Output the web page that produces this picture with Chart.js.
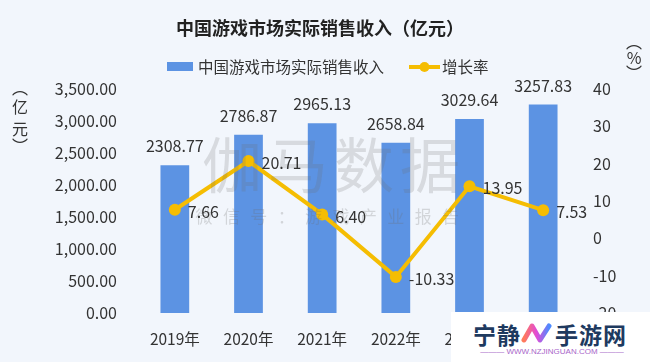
<!DOCTYPE html>
<html>
<head>
<meta charset="utf-8">
<script src="https://cdn.jsdelivr.net/npm/chart.js@4.4.1/dist/chart.umd.min.js"></script>
<style>
  html, body { margin: 0; padding: 0; background: #F2F6FC; }
  #wrap { position: relative; width: 650px; height: 362px; }
  #logo {
    position: absolute; left: 451px; top: 312px; width: 199px; height: 50px;
    background: #ffffff; font-family: 'Noto Sans CJK SC', sans-serif;
  }
  #logo .main { position: absolute; left: 22px; top: 5px; font-size: 23px; font-weight: bold; color: #1E3A5F; letter-spacing: 1px; white-space: nowrap; }
  #logo svg { position: absolute; left: 70px; top: 8px; }
  #logo .sub { position: absolute; left: 26px; top: 35px; width: 150px; font-size: 8px; color: #A865C9; text-align: center; white-space: nowrap; font-family: 'Liberation Sans', sans-serif; }
</style>
</head>
<body>
<div id="wrap">
  <canvas id="chart"></canvas>
  <div id="logo">
    <div class="main">宁静<span style="display:inline-block;width:34px"></span>手游网</div>
    <svg width="32" height="26" viewBox="0 0 32 26">
      <defs>
        <linearGradient id="g" x1="0" y1="0" x2="1" y2="0">
          <stop offset="0" stop-color="#FF7A59"/>
          <stop offset="0.5" stop-color="#E24BD6"/>
          <stop offset="1" stop-color="#4D8BFF"/>
        </linearGradient>
      </defs>
      <polyline points="3,20 11,6 19,20 28,6" fill="none" stroke="url(#g)" stroke-width="5" stroke-linejoin="round" stroke-linecap="round"/>
    </svg>
    <div class="sub">——— WWW.NZJINGUAN.COM ———</div>
  </div>
</div>
<script>
// 数据
const years = ['2019年', '2020年', '2021年', '2022年', '2023年', '2024年'];
const revenue = [2308.77, 2786.87, 2965.13, 2658.84, 3029.64, 3257.83];
const growth = [7.66, 20.71, 6.40, -10.33, 13.95, 7.53];
const barLabel = '中国游戏市场实际销售收入';
const lineLabel = '增长率';

const FONT = "'Noto Sans CJK SC', 'Noto Sans', sans-serif";
const BLUE = '#5C93E3';
const GOLD = '#F5BD02';
const TEXT = '#333333';

Chart.defaults.font.family = FONT;
Chart.defaults.color = TEXT;

const fmt2 = v => v.toLocaleString('en-US', { minimumFractionDigits: 2, maximumFractionDigits: 2 });

// 标题、图例、轴标题、水印和数值标签
const decorPlugin = {
  id: 'decor',
  beforeDraw(chart) {
    const ctx = chart.ctx;
    ctx.save();
    ctx.fillStyle = '#F2F6FC';
    ctx.fillRect(0, 0, chart.width, chart.height);
    ctx.fillStyle = '#222';
    ctx.font = 'bold 18px ' + FONT;
    ctx.textAlign = 'center';
    ctx.textBaseline = 'middle';
    ctx.fillText('中国游戏市场实际销售收入（亿元）', 320, 28);

    // 图例
    ctx.font = '15.5px ' + FONT;
    ctx.textAlign = 'left';
    ctx.fillStyle = BLUE;
    ctx.fillRect(167, 62, 26, 9);
    ctx.fillStyle = TEXT;
    ctx.fillText(barLabel, 198, 67);
    ctx.strokeStyle = GOLD;
    ctx.lineWidth = 4;
    ctx.beginPath();
    ctx.moveTo(409, 67);
    ctx.lineTo(440, 67);
    ctx.stroke();
    ctx.fillStyle = GOLD;
    ctx.beginPath();
    ctx.arc(424.5, 67, 5, 0, Math.PI * 2);
    ctx.fill();
    ctx.fillStyle = TEXT;
    ctx.fillText(lineLabel, 442, 67);

    // 轴标题（竖排）
    ctx.textAlign = 'center';
    ctx.font = '16px ' + FONT;
    [['︵', 88], ['亿', 107], ['元', 129], ['︶', 146]].forEach(([c, y]) => ctx.fillText(c, 20, y));
    [['︵', 42], ['%', 58], ['︶', 73]].forEach(([c, y]) => ctx.fillText(c, 634, y));
    ctx.restore();
  },
  afterDatasetsDraw(chart) {
    const ctx = chart.ctx;
    ctx.save();
    // 水印
    ctx.fillStyle = 'rgba(110,110,110,0.2)';
    ctx.font = '60px ' + FONT;
    ctx.textAlign = 'center';
    ctx.textBaseline = 'middle';
    '伽马数据'.split('').forEach((c, i) => ctx.fillText(c, 232 + i * 66, 165));
    ctx.font = '17px ' + FONT;
    ctx.fillStyle = 'rgba(110,110,110,0.24)';
    '微信号：游戏产业报告'.split('').forEach((c, i) => ctx.fillText(c, 204 + i * 27.4, 217));

    // 数值标签
    ctx.fillStyle = TEXT;
    ctx.font = '16px ' + FONT;
    chart.getDatasetMeta(0).data.forEach((bar, i) => {
      ctx.textAlign = 'center';
      ctx.fillText(revenue[i].toFixed(2), bar.x, bar.y - 19);
    });
    chart.getDatasetMeta(1).data.forEach((pt, i) => {
      ctx.textAlign = 'left';
      ctx.fillText(growth[i].toFixed(2), pt.x + 13, pt.y + 2);
    });
    ctx.restore();
  }
};

new Chart(document.getElementById('chart'), {
  data: {
    labels: years,
    datasets: [
      {
        type: 'bar',
        label: barLabel,
        data: revenue,
        backgroundColor: BLUE,
        yAxisID: 'y',
        barPercentage: 0.39,
        categoryPercentage: 1,
        order: 2
      },
      {
        type: 'line',
        label: lineLabel,
        data: growth,
        borderColor: GOLD,
        backgroundColor: GOLD,
        borderWidth: 4,
        pointRadius: 6,
        pointBackgroundColor: GOLD,
        pointBorderWidth: 0,
        tension: 0,
        yAxisID: 'y1',
        order: 1
      }
    ]
  },
  options: {
    responsive: true,
    maintainAspectRatio: false,
    animation: false,
    layout: { padding: { top: 89, bottom: 14, left: 0, right: 0 } },
    plugins: {
      legend: { display: false },
      title: { display: false },
      tooltip: { enabled: false }
    },
    scales: {
      x: {
        grid: { display: false, drawTicks: false },
        border: { display: false },
        ticks: { font: { size: 15.5 }, padding: 17, color: TEXT },
        afterFit(scale) { scale.height = 35; }
      },
      y: {
        position: 'left',
        min: 0,
        max: 3500,
        grid: { display: false, drawTicks: false },
        border: { display: false },
        ticks: { stepSize: 500, font: { size: 16 }, padding: 21, color: TEXT, callback: v => fmt2(v) },
        afterFit(scale) { scale.width = 138; }
      },
      y1: {
        position: 'right',
        min: -20,
        max: 40,
        grid: { display: false, drawTicks: false },
        border: { display: false },
        ticks: { stepSize: 10, font: { size: 16 }, padding: 13, color: TEXT },
        afterFit(scale) { scale.width = 70; }
      }
    }
  },
  plugins: [decorPlugin]
});
</script>
</body>
</html>
